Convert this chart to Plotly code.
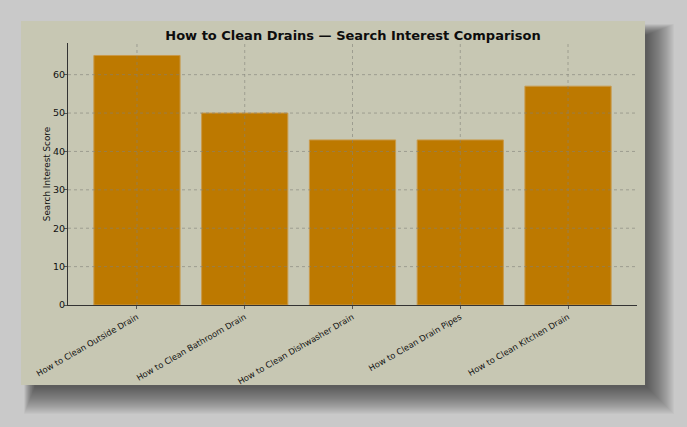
"""
Bar chart: search interest for drain cleaning queries
"""
import plotly.graph_objects as go

queries = [
    'How to Clean Outside Drain',
    'How to Clean Bathroom Drain',
    'How to Clean Dishwasher Drain',
    'How to Clean Drain Pipes',
    'How to Clean Kitchen Drain',
]
scores = [65, 50, 43, 43, 57]
y_ticks = [0, 10, 20, 30, 40, 50, 60]

W, H = 687, 427
L, R, T, B = 68, 50, 43, 122
PW, PH = W - L - R, H - T - B


def px_x(px):
    return (px - L) / PW


def px_y(py):
    return (H - B - py) / PH


fig = go.Figure()

fig.add_trace(go.Bar(
    x=list(range(len(queries))),
    y=scores,
    width=0.8,
    marker=dict(color='#bd7900', line=dict(color='#c99a4a', width=1)),
    hovertemplate='%{y}<extra></extra>',
))

shapes = []
# soft drop shadow, mostly to the right and below the card
for pad in range(0, 28):
    shapes.append(dict(
        type='rect', xref='paper', yref='paper', layer='below',
        x0=px_x(21 + 14 - pad * 0.4), x1=px_x(645 + 2 + pad),
        y0=px_y(385 + 2 + pad), y1=px_y(21 + 14 - pad * 0.4),
        fillcolor='rgba(30,30,30,0.03)', line=dict(width=0),
    ))
# card
shapes.append(dict(
    type='rect', xref='paper', yref='paper', layer='below',
    x0=px_x(21), x1=px_x(645), y0=px_y(385), y1=px_y(21),
    fillcolor='#c7c7b3', line=dict(width=0),
))
# gridlines drawn over the bars
for t in y_ticks[1:]:
    shapes.append(dict(
        type='line', xref='paper', yref='y', layer='above',
        x0=0, x1=1, y0=t, y1=t,
        line=dict(color='rgba(130,130,120,0.75)', width=0.8, dash='dot'),
    ))
for i in range(len(queries)):
    shapes.append(dict(
        type='line', xref='x', yref='paper', layer='above',
        x0=i, x1=i, y0=0, y1=1,
        line=dict(color='rgba(130,130,120,0.75)', width=0.8, dash='dot'),
    ))

fig.update_layout(
    width=W, height=H,
    margin=dict(l=L, r=R, t=T, b=B),
    paper_bgcolor='#c9c9c9',
    plot_bgcolor='rgba(0,0,0,0)',
    shapes=shapes,
    showlegend=False,
    font=dict(family='DejaVu Sans, sans-serif', size=9, color='#111111'),
    title=dict(
        text='<b>How to Clean Drains — Search Interest Comparison</b>',
        x=353 / W, xanchor='center',
        y=1 - 35 / H, yanchor='middle',
        font=dict(size=13, color='#0d0d0d'),
    ),
)

fig.update_xaxes(
    range=[-0.64, 4.64],
    tickvals=list(range(len(queries))),
    ticktext=queries,
    tickangle=-30,
    showgrid=False,
    showline=True, linecolor='#333333', linewidth=1.2,
    ticks='outside', ticklen=3, tickcolor='#555555',
    tickfont=dict(size=8.4),
    zeroline=False,
)
fig.update_yaxes(
    range=[0, 68.25],
    tickvals=y_ticks,
    showgrid=False,
    showline=True, linecolor='#333333', linewidth=1.2,
    ticks='outside', ticklen=3, tickcolor='#555555',
    tickfont=dict(size=9.5),
    ticklabelstandoff=-3,
    title=dict(text='Search Interest Score', font=dict(size=8.8), standoff=0),
    zeroline=False,
)

fig.write_html(
    'out.html',
    config={'displayModeBar': False},
    post_script="document.body.style.margin='0';",
)
